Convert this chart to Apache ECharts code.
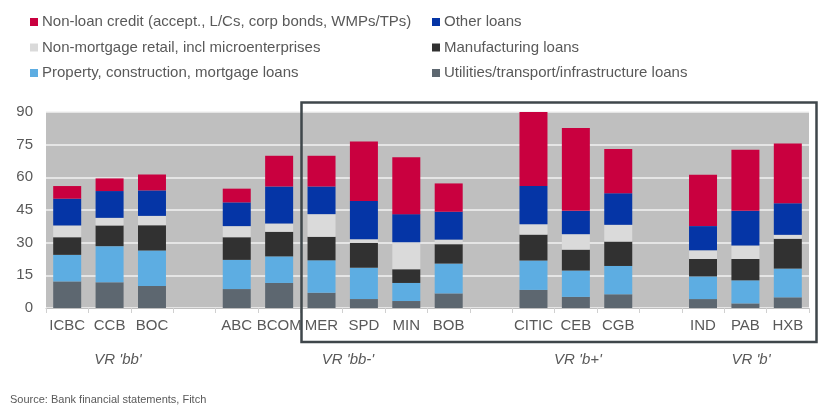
<!DOCTYPE html>
<html>
<head>
<meta charset="utf-8">
<script src="https://cdn.jsdelivr.net/npm/echarts@6/dist/echarts.min.js"></script>
<style>
  html, body { margin: 0; padding: 0; background: #fff; }
  #chart { width: 840px; height: 417px; }
</style>
</head>
<body>
<div id="chart"></div>
<script>
// banks, with empty slots between rating groups
const banks = ['ICBC', 'CCB', 'BOC', '', 'ABC', 'BCOM', 'MER', 'SPD', 'MIN', 'BOB', '', 'CITIC', 'CEB', 'CGB', '', 'IND', 'PAB', 'HXB'];

// stacked from bottom to top (% of total)
const utilities     = [12.2, 11.8, 10.1, '-', 8.7, 11.5, 7.0, 4.1, 3.2, 6.7, '-', 8.3, 5.1, 6.3, '-', 4.1, 2.1, 4.9];
const property      = [12.2, 16.6, 16.3, '-', 13.4, 12.2, 14.9, 14.4, 8.3, 13.7, '-', 13.5, 12.1, 13.0, '-', 10.4, 10.6, 13.2];
const manufacturing = [8.1, 9.5, 11.6, '-', 10.4, 11.3, 10.8, 11.4, 6.3, 8.9, '-', 11.9, 9.6, 11.2, '-', 8.0, 9.8, 13.7];
const retail        = [5.4, 3.5, 4.3, '-', 5.1, 3.8, 10.4, 1.7, 12.4, 2.1, '-', 4.8, 7.1, 7.7, '-', 4.0, 6.2, 1.8];
const otherLoans    = [12.3, 12.3, 11.7, '-', 10.9, 17.0, 12.7, 17.5, 12.9, 12.8, '-', 17.5, 10.7, 14.5, '-', 11.1, 15.9, 14.5];
const nonLoan       = [5.8, 5.8, 7.3, '-', 6.3, 14.1, 14.1, 27.3, 26.1, 13.0, '-', 34.0, 38.0, 20.3, '-', 23.6, 28.1, 27.4];

const groupLabels = ["VR 'bb'", "VR 'bb-'", "VR 'b+'", "VR 'b'"];
const groupCentres = [118, 348, 578, 751];

const chart = echarts.init(document.getElementById('chart'), null, { renderer: 'canvas' });

const textColor = '#595959';
const font = 'Liberation Sans, Arial, sans-serif';

function bar(name, data, color) {
  return {
    name: name,
    type: 'bar',
    stack: 'total',
    data: data,
    barWidth: 28,
    itemStyle: { color: color },
    animation: false
  };
}

const legendCommon = {
  orient: 'vertical',
  top: 9,
  icon: 'rect',
  itemWidth: 8,
  itemHeight: 8,
  itemGap: 9.5,
  textStyle: { color: textColor, fontSize: 15, fontFamily: font, lineHeight: 16, padding: [0, 0, 0, -1] }
};

const option = {
  backgroundColor: '#fff',
  textStyle: { fontFamily: font },
  legend: [
    Object.assign({ left: 25, data: ['Non-loan credit (accept., L/Cs, corp bonds, WMPs/TPs)', 'Non-mortgage retail, incl microenterprises', 'Property, construction, mortgage loans'] }, legendCommon),
    Object.assign({ left: 427, data: ['Other loans', 'Manufacturing loans', 'Utilities/transport/infrastructure loans'] }, legendCommon)
  ],
  grid: { left: 46, right: 31, top: 112, bottom: 109, show: true, backgroundColor: '#bfbfbf', borderWidth: 0 },
  xAxis: {
    type: 'category',
    data: banks,
    axisLine: { show: true, lineStyle: { color: '#bfbfbf', width: 1 } },
    axisTick: { show: true, length: 5, lineStyle: { color: '#d0d0d0' } },
    axisLabel: { color: textColor, fontSize: 15, margin: 10, fontFamily: font, interval: 0 }
  },
  yAxis: {
    type: 'value',
    min: 0,
    max: 90,
    interval: 15,
    axisLine: { show: false },
    axisTick: { show: false },
    splitLine: { lineStyle: { color: '#f2f2f2', width: 1.5 } },
    axisLabel: { color: textColor, fontSize: 15, margin: 13, fontFamily: font }
  },
  series: [
    bar('Utilities/transport/infrastructure loans', utilities, '#5d6770'),
    bar('Property, construction, mortgage loans', property, '#5dade2'),
    bar('Manufacturing loans', manufacturing, '#313131'),
    bar('Non-mortgage retail, incl microenterprises', retail, '#dadada'),
    bar('Other loans', otherLoans, '#0535a6'),
    bar('Non-loan credit (accept., L/Cs, corp bonds, WMPs/TPs)', nonLoan, '#c9003f')
  ],
  graphic: [
    {
      type: 'rect',
      shape: { x: 301.5, y: 102.5, width: 515, height: 239.5 },
      style: { fill: 'none', stroke: '#3f474b', lineWidth: 2.5 },
      z: 100
    },
    {
      type: 'text',
      left: 10,
      top: 394,
      style: { text: 'Source: Bank financial statements, Fitch', fill: textColor, font: '11px ' + font }
    }
  ].concat(groupLabels.map((t, i) => ({
    type: 'text',
    x: groupCentres[i],
    y: 360,
    style: {
      text: t,
      fill: textColor,
      font: 'italic 15px ' + font,
      align: 'center',
      verticalAlign: 'middle'
    }
  })))
};

chart.setOption(option);
</script>
</body>
</html>
